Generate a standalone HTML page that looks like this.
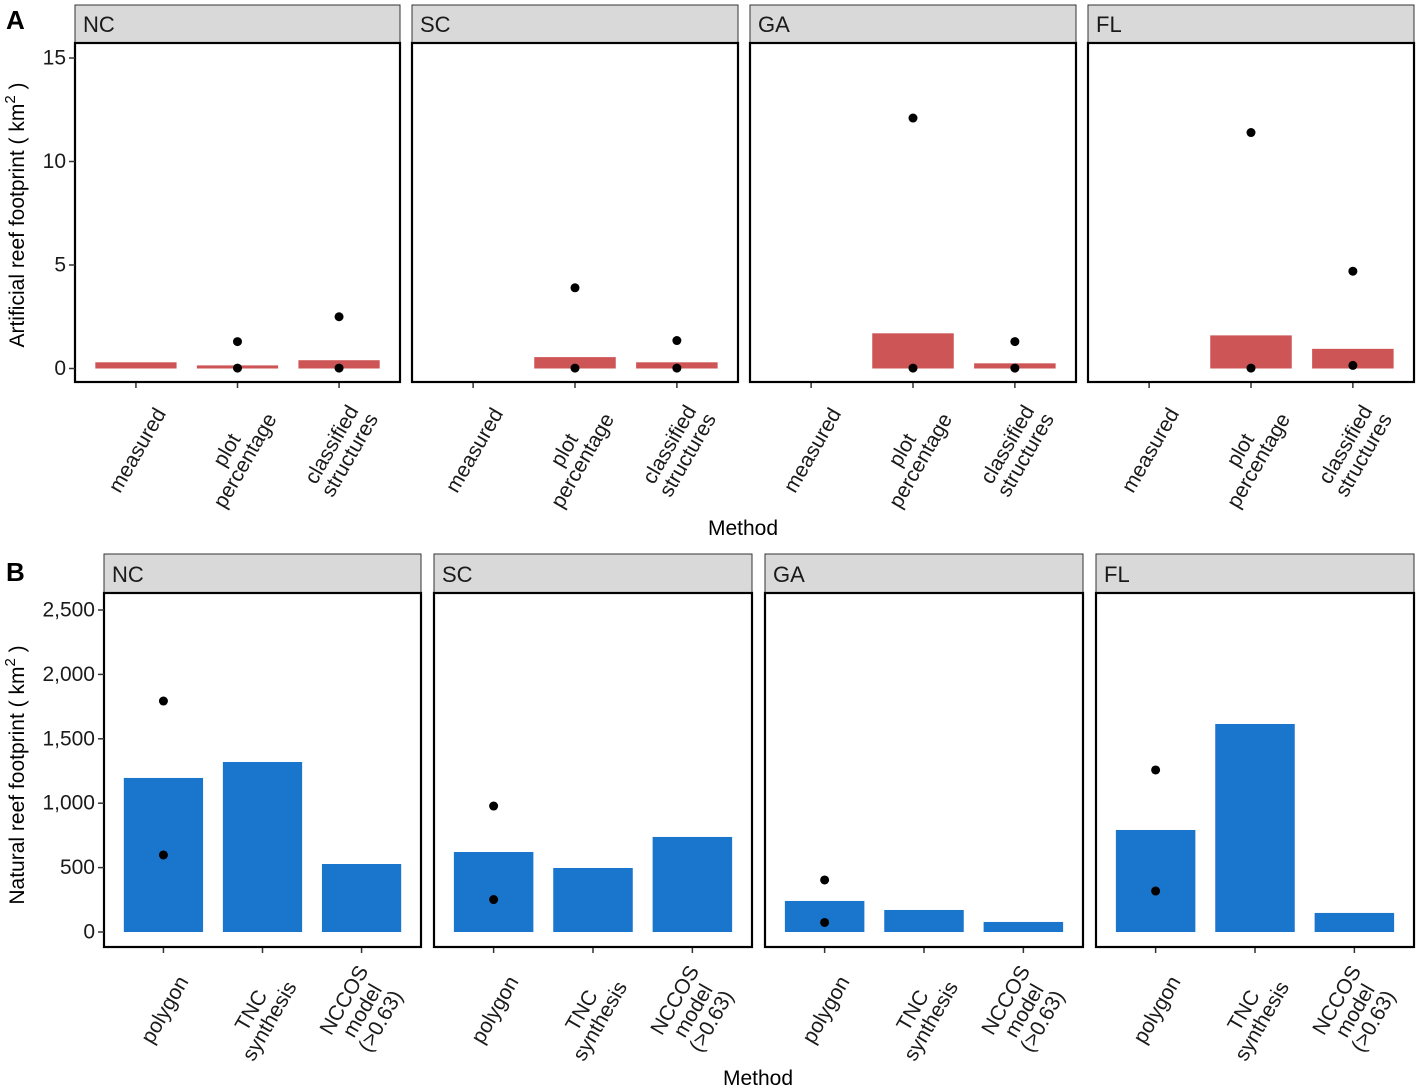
<!DOCTYPE html>
<html><head><meta charset="utf-8"><style>
html,body{margin:0;padding:0;background:#fff;}
svg{display:block;font-family:"Liberation Sans",Arial,sans-serif;}
</style></head><body>
<svg id="chart" width="1417" height="1091" viewBox="0 0 1417 1091"></svg>
<script>
const states = ["NC","SC","GA","FL"];
// Panel A
const catsA = ["measured","plot\npercentage","classified\nstructures"];
const barsA = [[0.3,0.15,0.4],[0,0.55,0.3],[0,1.7,0.25],[0,1.6,0.95]];
const ptsA = [[[],[1.3,0.02],[2.5,0.02]],[[],[3.9,0.02],[1.35,0.02]],[[],[12.1,0.02],[1.3,0.02]],[[],[11.4,0.02],[4.7,0.15]]];
const ticksA = [0,5,10,15];
const tickLabelsA = ["0","5","10","15"];
// Panel B
const catsB = ["polygon","TNC\nsynthesis","NCCOS\nmodel\n(>0.63)"];
const barsB = [[1196,1320,528],[621,497,738],[241,171,78],[792,1615,148]];
const ptsB = [[[1793,598],[],[]],[[978,252],[],[]],[[404,74],[],[]],[[1258,318],[],[]]];
const ticksB = [0,500,1000,1500,2000,2500];
const tickLabelsB = ["0","500","1,000","1,500","2,000","2,500"];

const NS="http://www.w3.org/2000/svg";
const svg=document.getElementById('chart');
function mk(tag,attrs,parent){const e=document.createElementNS(NS,tag);for(const k in attrs)e.setAttribute(k,attrs[k]);(parent||svg).appendChild(e);return e;}

function drawRow(cfg){
  const g=mk('g',{});
  
  
  const yScale=v=>cfg.y0+(v-0)*(cfg.yTop-cfg.y0)/cfg.vTop;
  cfg.xs.forEach((px,fi)=>{
    const x0=px[0],x1=px[1],W=x1-x0;
    const fg=mk('g',{},g);
    
    
    const strip=mk('rect',{x:x0,y:cfg.stripTop,width:W,height:cfg.panelTop-cfg.stripTop,fill:'#d9d9d9',stroke:'#333','stroke-width':1},fg);
    
    
    const st=mk('text',{x:x0+8,y:cfg.panelTop-11,'font-size':22,fill:'#1a1a1a'},fg);
    st.textContent=states[fi];
    
    
    const step=W/3.2;
    const cx=i=>x0+step*(0.6+i);
    cfg.cats.forEach((c,i)=>{
      const v=cfg.bars[fi][i];
      if(v>0){
        const b=mk('rect',{x:cx(i)-0.4*step,y:yScale(v),width:0.8*step,height:yScale(0)-yScale(v),fill:cfg.color},fg);
        
        
      }
      cfg.pts[fi][i].forEach(p=>{
        const d=mk('circle',{cx:cx(i),cy:yScale(p),r:4.5,fill:'#000'},fg);
        
        
      });
      mk('line',{x1:cx(i),x2:cx(i),y1:cfg.panelBot,y2:cfg.panelBot+6,stroke:'#333','stroke-width':1.5},fg);
      const lines=c.split('\n');
      const lg=mk('g',{transform:`translate(${cx(i)+cfg.lblDx},${cfg.panelBot+cfg.lblDy}) rotate(-60)`},fg);
      
      
      const tEls=lines.map((ln,li)=>{const t=mk('text',{x:0,y:(li-(lines.length-1)/2)*21,'font-size':21,fill:'#1a1a1a','text-anchor':'middle','dominant-baseline':'central'},lg);t.textContent=ln;return t;});
      const mw=Math.max(...tEls.map(t=>t.getComputedTextLength()));
      tEls.forEach(t=>t.setAttribute('x',-mw/2));
    });
    const border=mk('rect',{x:x0,y:cfg.panelTop,width:W,height:cfg.panelBot-cfg.panelTop,fill:'none',stroke:'#000','stroke-width':2.2},fg);
    
    
  });
  const ax=mk('g',{},g);
  
  
  const xl=cfg.xs[0][0];
  cfg.ticks.forEach((t,i)=>{
    mk('line',{x1:xl-6,x2:xl,y1:yScale(t),y2:yScale(t),stroke:'#333','stroke-width':1.5},ax);
    const tl=mk('text',{x:xl-9,y:yScale(t),'font-size':21,fill:'#1a1a1a','text-anchor':'end','dominant-baseline':'central'},ax);
    tl.textContent=cfg.tickLabels[i];
    
    
  });
  const yt=mk('text',{transform:`translate(24,${cfg.yTitleY}) rotate(-90)`,'font-size':21,fill:'#000','text-anchor':'middle'},g);
  yt.innerHTML=cfg.yTitle+' ( km<tspan dy="-9" font-size="15">2</tspan><tspan dy="9"> )</tspan>';
  
  
  const xt=mk('text',{x:cfg.xTitleX,y:cfg.xTitleY,'font-size':21,fill:'#000','text-anchor':'middle'},g);
  xt.textContent='Method';
  
  
  const pl=mk('text',{x:6,y:cfg.tagY,'font-size':26,'font-weight':'bold',fill:'#000'},g);
  pl.textContent=cfg.tag;
  
  
}

drawRow({name:'panel-a-artificial',cats:catsA,bars:barsA,pts:ptsA,ticks:ticksA,tickLabels:tickLabelsA,
  xs:[[75,400],[412,738],[750,1076],[1088,1414]],stripTop:5,panelTop:43,panelBot:382,y0:368.5,yTop:58,vTop:15,
  color:'#cd5555',lblDx:25,lblDy:28,yTitle:'Artificial reef footprint',yTitleY:215,xTitleX:743,xTitleY:535,tagY:29,tag:'A'});
drawRow({name:'panel-b-natural',cats:catsB,bars:barsB,pts:ptsB,ticks:ticksB,tickLabels:tickLabelsB,
  xs:[[104,421],[434,752],[765,1083],[1096,1414]],stripTop:554,panelTop:593,panelBot:947,y0:932,yTop:610,vTop:2500,
  color:'#1a75cd',lblDx:20,lblDy:31,yTitle:'Natural reef footprint',yTitleY:775,xTitleX:758,xTitleY:1085,tagY:581,tag:'B'});
</script>
</body></html>
